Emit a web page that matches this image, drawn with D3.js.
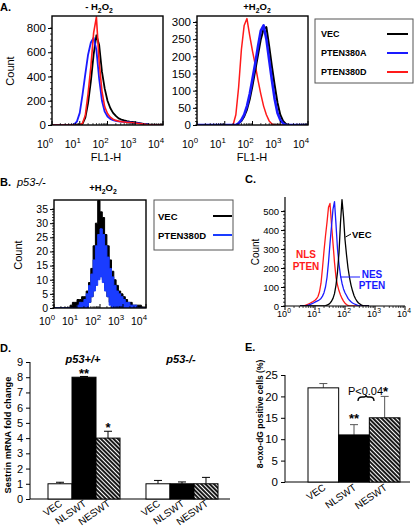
<!DOCTYPE html>
<html><head><meta charset="utf-8">
<script src="https://cdn.jsdelivr.net/npm/d3@7"></script>
<style>body{margin:0;background:#fff}svg{display:block;font-family:"Liberation Sans",Arial,sans-serif}</style>
</head><body>
<script>
// ---------- DATA ----------
const aBins=[0,0.1,0.2,0.3,0.4,0.5,0.6,0.7,0.8,0.9,1,1.1,1.2,1.3,1.4,1.5,1.6,1.7,1.8,1.9,2,2.1,2.2,2.3,2.4,2.5,2.6,2.7,2.8,2.9,3,3.1,3.2,3.3,3.4,3.5,3.6,3.7,3.8,3.9,4];
const aMinusVEC=[0,0,0,0,0,0,0,0,0,0,2,10,60,180,360,580,740,660,440,300,200,140,100,75,55,45,38,32,28,25,22,18,14,10,8,5,3,2,0,0,0];
const aMinus380A=[0,0,0,0,0,0,0,0,5,30,100,250,420,580,680,720,620,380,200,110,70,50,40,34,30,28,26,24,22,20,18,15,12,8,5,2,0,0,0,0,0];
const aMinus380D=[0,0,0,0,0,0,0,0,0,0,0,15,80,260,480,760,890,520,280,150,95,65,48,38,32,28,25,22,20,18,16,13,10,7,4,2,0,0,0,0,0];
const aPlusVEC=[0,0,0,0,0,0,0,0,0,0,0,0,0,0,0,5,12,25,45,75,115,160,205,250,280,285,230,170,115,65,30,12,3,0,0,0,0,0,0,0,0];
const aPlus380A=[0,0,0,0,0,0,0,0,0,0,0,0,0,0,0,5,15,30,55,90,135,180,230,275,290,250,190,130,75,35,15,5,0,0,0,0,0,0,0,0,0];
const aPlus380D=[0,0,0,0,0,0,0,0,0,0,0,0,0,0,30,110,220,290,310,260,215,175,130,90,55,30,12,3,0,0,0,0,0,0,0,0,0,0,0,0,0];
const bVECHigh=[0,0,0,0,0,0,0,1,2,2,3,3,4,4,6,9,14,22,30,38,34,32,26,22,17,13,10,8,6,5,4,3,2,2,1,1,1,1,0,0,0];
const bVECLow=[0,0,0,0,0,0,0,0,0,0,0,0,0,0,0,2,4,7,10,13,13,10,7,4,2,0,0,0,0,0,0,0,0,0,0,0,0,0,0,0,0];
const b380DHigh=[0,0,0,0,0,0,0,0,0,0,1,2,2,3,5,8,12,17,22,26,28,26,22,18,14,11,8,6,5,4,3,2,2,1,1,1,0,0,0,0,0];
const b380DLow=[0,0,0,0,0,0,0,0,0,0,0,0,0,0,0,2,4,6,8,10,11,9,6,4,1,0,0,0,0,0,0,0,0,0,0,0,0,0,0,0,0];
const cBins=[0.5,0.55,0.6,0.65,0.7,0.75,0.8,0.85,0.9,0.95,1,1.05,1.1,1.15,1.2,1.25,1.3,1.35,1.4,1.45,1.5,1.55,1.6,1.65,1.7,1.75,1.8,1.85,1.9,1.95,2,2.05,2.1,2.15,2.2,2.25,2.3,2.35,2.4,2.45,2.5,2.55,2.6,2.65,2.7,2.75,2.8];
const cVEC=[0,0,0,0,0,0,0,0,0,0,0,0,0,0,0,0,0,2,5,8,15,25,40,65,110,180,280,440,560,470,350,270,200,150,110,80,55,38,25,16,10,5,2,0,0,0,0];
const cNES=[0,0,0,0,0,3,6,9,12,16,20,24,28,33,40,52,70,100,150,230,330,420,510,550,430,300,220,160,120,90,70,55,40,30,22,16,12,8,5,2,0,0,0,0,0,0,0];
const cNLS=[0,0,0,2,5,8,12,16,20,25,30,38,50,75,120,200,290,370,440,520,540,430,330,230,150,110,80,58,40,26,15,8,3,0,0,0,0,0,0,0,0,0,0,0,0,0,0];
const decadeExps=["0","1","2","3","4"];
const aMinusYTicks=[0,200,400,600,800];
const aPlusYTicks=[0,50,100,150,200,250,300];
const bYTicks=[0,5,10,15,20,25,30,35];
const cYTicks=[0,100,200,300,400,500];
const dGroups=["p53+/+","p53-/-"];
const dCats=["VEC","NLSWT","NESWT"];
const dVals=[[1,8,4],[1,1,1]];
const dErr=[[0.1,0.05,0.45],[0.22,0.12,0.42]];
const dStars=[["","**","*"],["","",""]];
const dYTicks=[0,1,2,3,4,5,6,7,8,9];
const eCats=["VEC","NLSWT","NESWT"];
const eVals=[22,11,15];
const eErr=[1,2.4,5];
const eYTicks=[0,5,10,15,20,25];
const legendA=[["VEC","#000"],["PTEN380A","#1a1aff"],["PTEN380D","#ff1a1a"]];
const legendB=[["VEC","#000"],["PTEN380D","#1a3cff"]];

const BLUE="#1a1aff", RED="#ff1a1a";
const FF='"Liberation Sans",Arial,sans-serif';
const svg=d3.select("body").append("svg").attr("width",416).attr("height",528);
svg.append("rect").attr("width",416).attr("height",528).attr("fill","#fff");
const defs=svg.append("defs");
const pat=defs.append("pattern").attr("id","hatch").attr("patternUnits","userSpaceOnUse")
  .attr("width",3).attr("height",3).attr("patternTransform","rotate(-45)");
pat.append("rect").attr("width",3).attr("height",3).attr("fill","#fff");
pat.append("line").attr("x1",1).attr("y1",0).attr("x2",1).attr("y2",3).attr("stroke","#1a1a1a").attr("stroke-width",2);

function txt(x,y,s,o={}){
  const t=svg.append("text").attr("x",x).attr("y",y).text(s)
    .attr("font-size",o.fs||11).attr("font-weight",o.fw||"normal").attr("font-style",o.it?"italic":"normal")
    .attr("text-anchor",o.anchor||"start").attr("fill",o.fill||"#000");
  if(o.rot!==undefined) t.attr("transform",`rotate(${o.rot},${x},${y})`);
  return t;
}
function h2o2(x,y,prefix,fs){
  const t=svg.append("text").attr("x",x).attr("y",y).attr("font-size",fs).attr("font-weight","bold").attr("text-anchor","middle");
  t.append("tspan").text(prefix+"H");
  t.append("tspan").attr("font-size",fs*0.72).attr("dy",2.5).text("2");
  t.append("tspan").attr("dy",-2.5).text("O");
  t.append("tspan").attr("font-size",fs*0.72).attr("dy",2.5).text("2");
}

function histo(c){
  const x=d3.scaleLinear().domain([0,4]).range([c.l,c.r]);
  const y=d3.scaleLinear().domain([0,c.ymax]).range([c.b,c.t]);
  const g=svg.append("g");
  defs.append("clipPath").attr("id","cl"+c.id).append("rect")
    .attr("x",c.l).attr("y",c.t-3).attr("width",c.r-c.l).attr("height",c.b-c.t+3);
  const plot=g.append("g").attr("clip-path",`url(#cl${c.id})`);
  const ya=g.append("g").attr("transform",`translate(${c.l},0)`)
    .call(d3.axisLeft(y).tickValues(c.yTicks).tickSize(4).tickPadding(2));
  ya.attr("font-family",FF).attr("font-size",c.yfs);
  ya.select(".domain").remove();
  ya.selectAll("line").attr("stroke-width",1);
  const top=c.yTicks[c.yTicks.length-1];
  d3.range(0,top+c.minor/2,c.minor).forEach(v=>{
    g.append("line").attr("x1",c.l-2).attr("x2",c.l).attr("y1",y(v)).attr("y2",y(v)).attr("stroke","#000").attr("stroke-width",0.8);
  });
  const dir=c.tickDown?1:-1;
  decadeExps.forEach((e,i)=>{
    g.append("line").attr("x1",x(i)).attr("x2",x(i)).attr("y1",c.b).attr("y2",c.b+dir*4).attr("stroke","#000");
    if(i<4) for(let k=2;k<10;k++){
      const xv=x(i+Math.log10(k));
      g.append("line").attr("x1",xv).attr("x2",xv).attr("y1",c.b).attr("y2",c.b+dir*2).attr("stroke","#000").attr("stroke-width",0.7);
    }
    const t=svg.append("text").attr("x",x(i)+c.lx).attr("y",c.ly).attr("font-size",c.xfs).attr("text-anchor",c.lanchor);
    t.append("tspan").text("10");
    t.append("tspan").attr("dy",-c.xfs*0.45).attr("font-size",c.xfs*0.75).text(e);
  });
  if(c.box){
    g.append("rect").attr("x",c.l).attr("y",c.t).attr("width",c.r-c.l).attr("height",c.b-c.t)
      .attr("fill","none").attr("stroke","#000").attr("stroke-width",1.4);
  } else {
    g.append("line").attr("x1",c.l).attr("x2",c.r).attr("y1",c.b).attr("y2",c.b).attr("stroke","#000").attr("stroke-width",1.2);
    g.append("line").attr("x1",c.l).attr("x2",c.l).attr("y1",c.t).attr("y2",c.b).attr("stroke","#000").attr("stroke-width",1.2);
  }
  return {plot,x,y,g};
}
function curve(p,bins,vals,color,w){
  const line=d3.line().x((d,i)=>p.x(bins[i])).y(d=>p.y(d)).curve(d3.curveLinear);
  p.plot.append("path").attr("d",line(vals)).attr("fill","none").attr("stroke",color).attr("stroke-width",w).attr("stroke-linejoin","round");
}
function band(p,bins,lo,hi,color){
  const area=d3.area().x((d,i)=>p.x(bins[i])).y0((d,i)=>p.y(lo[i])).y1(d=>p.y(d)).curve(d3.curveStepAfter);
  p.plot.append("path").attr("d",area(hi)).attr("fill",color).attr("stroke",color).attr("stroke-width",1);
}

// ---------- PANEL A ----------
txt(0,11,"A.",{fw:"bold",fs:11});
h2o2(99,10,"- ",9.5);
h2o2(257,10,"+",9.5);
const pA1=histo({id:"a1",l:52,r:163,t:16,b:125,ymax:899,yTicks:aMinusYTicks,minor:50,yfs:11.5,xfs:10.5,lx:1,ly:148,lanchor:"end",box:true});
curve(pA1,aBins,aMinusVEC,"#000",1.8);
curve(pA1,aBins,aMinus380A,BLUE,1.8);
curve(pA1,aBins,aMinus380D,RED,1.6);
const pA2=histo({id:"a2",l:197,r:308,t:16,b:125,ymax:317.5,yTicks:aPlusYTicks,minor:10,yfs:11.5,xfs:10.5,lx:1,ly:148,lanchor:"end",box:true});
curve(pA2,aBins,aPlus380D,RED,1.5);
curve(pA2,aBins,aPlusVEC,"#000",2);
curve(pA2,aBins,aPlus380A,BLUE,2.6);
txt(14,71,"Count",{fs:11,anchor:"middle",rot:-90});
txt(106,161,"FL1-H",{fs:11,anchor:"middle"});
txt(252,161,"FL1-H",{fs:11,anchor:"middle"});
svg.append("rect").attr("x",315).attr("y",19).attr("width",98).attr("height",64).attr("fill","#fff").attr("stroke","#555").attr("stroke-width",1);
legendA.forEach((d,i)=>{
  const yy=33+i*19;
  txt(321,yy+3.5,d[0],{fw:"bold",fs:9});
  svg.append("line").attr("x1",387).attr("x2",408).attr("y1",yy+1).attr("y2",yy+1).attr("stroke",d[1]).attr("stroke-width",2);
});

// ---------- PANEL B ----------
txt(0,186,"B.",{fw:"bold",fs:11});
txt(17,186,"p53-/-",{it:true,fs:11});
h2o2(103,191,"+",9.5);
const pB=histo({id:"b",l:54,r:146,t:200,b:308,ymax:38.2,yTicks:bYTicks,minor:1,yfs:10.5,xfs:10.5,lx:1,ly:325,lanchor:"end",box:true});
band(pB,aBins,bVECLow,bVECHigh,"#000");
band(pB,aBins,b380DLow,b380DHigh,"#1a3cff");
txt(22,255,"Count",{fs:11,anchor:"middle",rot:-90});
svg.append("rect").attr("x",154).attr("y",200).attr("width",79).attr("height",50).attr("fill","#fff").attr("stroke","#555").attr("stroke-width",1);
legendB.forEach((d,i)=>{
  const yy=216+i*19;
  txt(158,yy+4,d[0],{fw:"bold",fs:9.5});
  svg.append("line").attr("x1",213).attr("x2",232).attr("y1",yy).attr("y2",yy).attr("stroke",d[1]).attr("stroke-width",2);
});

// ---------- PANEL C ----------
txt(245,183,"C.",{fw:"bold",fs:11});
const pC=histo({id:"c",l:285,r:405,t:197,b:306,ymax:574,yTicks:cYTicks,minor:20,yfs:9.5,xfs:9,lx:-1,ly:317,lanchor:"middle",box:false,tickDown:true});
curve(pC,cBins,cNLS,RED,1.3);
curve(pC,cBins,cNES,BLUE,1.3);
curve(pC,cBins,cVEC,"#000",1.3);
txt(259,252,"Count",{fs:10,anchor:"middle",rot:-90});
svg.append("line").attr("x1",345.5).attr("y1",237).attr("x2",351).attr("y2",234).attr("stroke","#000");
txt(352,238,"VEC",{fw:"bold",fs:9.5});
txt(306,258,"NLS",{fw:"bold",fs:10,anchor:"middle",fill:RED});
txt(306,270,"PTEN",{fw:"bold",fs:10,anchor:"middle",fill:RED});
svg.append("line").attr("x1",340).attr("y1",277).attr("x2",360).attr("y2",277).attr("stroke",BLUE);
txt(372,278,"NES",{fw:"bold",fs:10,anchor:"middle",fill:BLUE});
txt(372,289,"PTEN",{fw:"bold",fs:10,anchor:"middle",fill:BLUE});

// ---------- PANEL D ----------
txt(0,352,"D.",{fw:"bold",fs:11});
const dY=d3.scaleLinear().domain([0,9]).range([499,362]);
const dX0=d3.scaleBand().domain(dGroups).range([48,218]).paddingInner(0.265);
const dX1=d3.scaleBand().domain(dCats).range([0,dX0.bandwidth()]);
const fills={VEC:"#fff",NLSWT:"#000",NESWT:"url(#hatch)"};
const dya=svg.append("g").attr("transform","translate(30,0)").call(d3.axisLeft(dY).tickValues(dYTicks).tickSize(4).tickPadding(3));
dya.attr("font-family",FF).attr("font-size",11);
dya.select(".domain").attr("d","M0,362V499");
svg.append("line").attr("x1",30).attr("x2",230).attr("y1",499).attr("y2",499).attr("stroke","#000");
dGroups.forEach((gname,gi)=>{
  txt(dX0(gname)+dX0.bandwidth()/2-1,363,gname,{fw:"bold",it:true,fs:11,anchor:"middle"});
  dCats.forEach((cname,ci)=>{
    const x0=dX0(gname)+dX1(cname), w=dX1.bandwidth(), v=dVals[gi][ci], e=dErr[gi][ci];
    const cx=x0+w/2;
    svg.append("line").attr("x1",cx).attr("x2",cx).attr("y1",dY(v)).attr("y2",dY(v+e)).attr("stroke","#000").attr("stroke-width",1);
    svg.append("line").attr("x1",cx-4).attr("x2",cx+4).attr("y1",dY(v+e)).attr("y2",dY(v+e)).attr("stroke","#000").attr("stroke-width",1);
    svg.append("rect").attr("x",x0).attr("y",dY(v)).attr("width",w).attr("height",dY(0)-dY(v))
      .attr("fill",fills[cname]).attr("stroke","#000").attr("stroke-width",1);
    if(dStars[gi][ci]) txt(cx,dY(v+e)+(v>6?10:9),dStars[gi][ci],{fw:"bold",fs:13,anchor:"middle"}).attr("dy",-8);
    txt(cx+3,505,cname,{fs:10,anchor:"end",rot:-35});
  });
});
txt(11,435,"Sestrin mRNA fold change",{fw:"bold",fs:9.3,anchor:"middle",rot:-90});

// ---------- PANEL E ----------
txt(245,351,"E.",{fw:"bold",fs:11});
const eY=d3.scaleLinear().domain([0,25]).range([482,375]);
const eX=d3.scaleBand().domain(eCats).range([308,400]);
const eya=svg.append("g").attr("transform","translate(285,0)").call(d3.axisLeft(eY).tickValues(eYTicks).tickSize(4).tickPadding(3));
eya.attr("font-family",FF).attr("font-size",11.5);
eya.select(".domain").attr("d","M0,375V482");
svg.append("line").attr("x1",285).attr("x2",410).attr("y1",482).attr("y2",482).attr("stroke","#000");
eCats.forEach((cname,i)=>{
  const x0=eX(cname), w=eX.bandwidth(), v=eVals[i], e=eErr[i], cx=x0+w/2;
  svg.append("line").attr("x1",cx).attr("x2",cx).attr("y1",eY(v)).attr("y2",eY(v+e)).attr("stroke","#555").attr("stroke-width",1);
  svg.append("line").attr("x1",cx-4).attr("x2",cx+4).attr("y1",eY(v+e)).attr("y2",eY(v+e)).attr("stroke","#555").attr("stroke-width",1);
  svg.append("rect").attr("x",x0).attr("y",eY(v)).attr("width",w).attr("height",eY(0)-eY(v))
    .attr("fill",fills[cname]).attr("stroke","#000").attr("stroke-width",1);
  txt(cx+3,489,cname,{fs:10,anchor:"end",rot:-35});
});
txt(eX("NLSWT")+eX.bandwidth()/2,423,"**",{fw:"bold",fs:13,anchor:"middle"});
const pt=svg.append("text").attr("x",368).attr("y",395).attr("font-size",11).attr("text-anchor","middle");
pt.append("tspan").text("P<0.04");
pt.append("tspan").attr("font-weight","bold").attr("font-size",13).attr("dy",1).text("*");
svg.append("path").attr("d","M358,401 Q358,397 362,397 L364,397 Q366,397 366,395 Q366,397 368,397 L370,397 Q374,397 374,401")
  .attr("fill","none").attr("stroke","#000").attr("stroke-width",1.3);
txt(263,414,"8-oxo-dG positive cells (%)",{fw:"bold",fs:8.5,anchor:"middle",rot:-90});
</script>
</body></html>
